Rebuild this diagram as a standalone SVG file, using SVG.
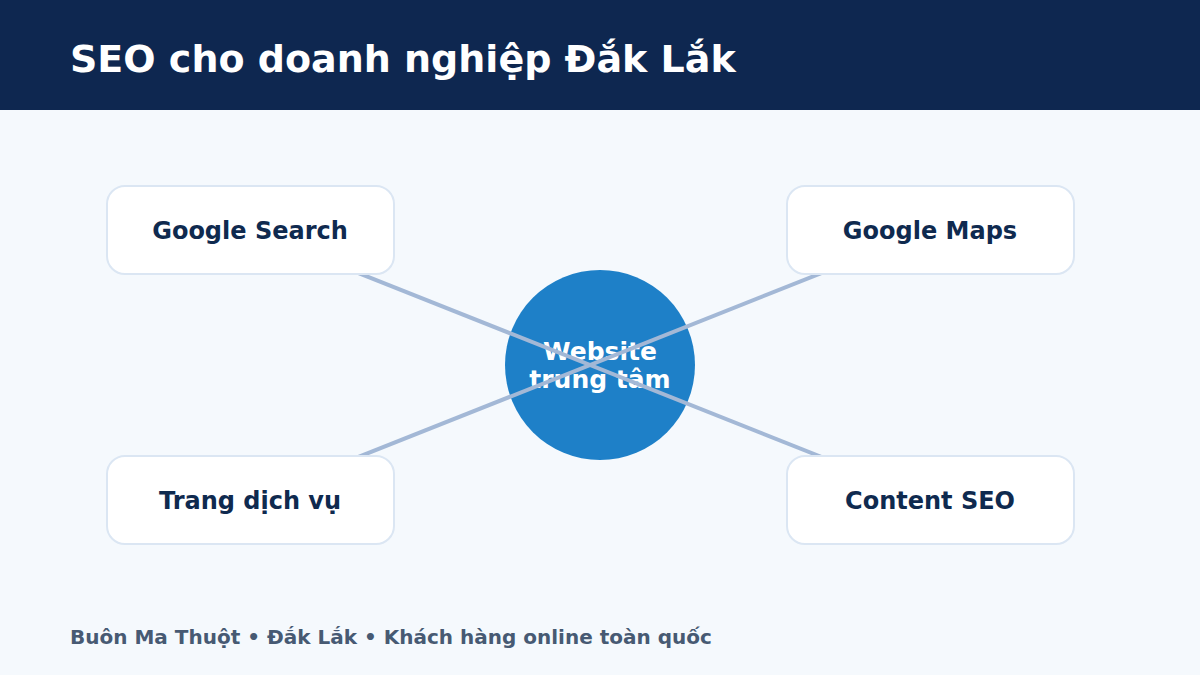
<svg xmlns="http://www.w3.org/2000/svg" width="1200" height="675" viewBox="0 0 1200 675">
<style>
.box{fill:#ffffff;stroke:#dbe6f3;stroke-width:2}
.lbl{font-family:"DejaVu Sans",sans-serif;font-weight:bold;font-size:24px;fill:#0f2a4f;text-anchor:middle}
.conn{stroke:#a3b8d6;stroke-width:4;fill:none}
.ctr{font-family:"DejaVu Sans",sans-serif;font-weight:bold;font-size:25px;fill:#ffffff;text-anchor:middle}
</style>
<rect x="0" y="0" width="1200" height="675" fill="#f5f9fd"/>
<rect x="0" y="0" width="1200" height="110" fill="#0e2750"/>
<text x="70" y="72" font-family="DejaVu Sans, sans-serif" font-weight="bold" font-size="38" fill="#ffffff">SEO cho doanh nghiệp Đắk Lắk</text>
<g id="center">
<circle cx="600" cy="365" r="95" fill="#1e80c8"/>
<text class="ctr" x="600" y="360">Website</text>
<text class="ctr" x="600" y="388">trung tâm</text>
</g>
<g id="connectors">
<line class="conn" x1="250" y1="230" x2="930" y2="500"/>
<line class="conn" x1="930" y1="230" x2="250" y2="500"/>
</g>
<g id="n-search">
<rect class="box" x="107" y="186" width="287" height="88" rx="18"/>
<text class="lbl" x="250" y="239">Google Search</text>
</g>
<g id="n-maps">
<rect class="box" x="787" y="186" width="287" height="88" rx="18"/>
<text class="lbl" x="930" y="239">Google Maps</text>
</g>
<g id="n-service">
<rect class="box" x="107" y="456" width="287" height="88" rx="18"/>
<text class="lbl" x="250" y="509">Trang dịch vụ</text>
</g>
<g id="n-content">
<rect class="box" x="787" y="456" width="287" height="88" rx="18"/>
<text class="lbl" x="930" y="509">Content SEO</text>
</g>
<text x="70" y="644" font-family="DejaVu Sans, sans-serif" font-weight="bold" font-size="20" fill="#475a73">Buôn Ma Thuột • Đắk Lắk • Khách hàng online toàn quốc</text>
</svg>
